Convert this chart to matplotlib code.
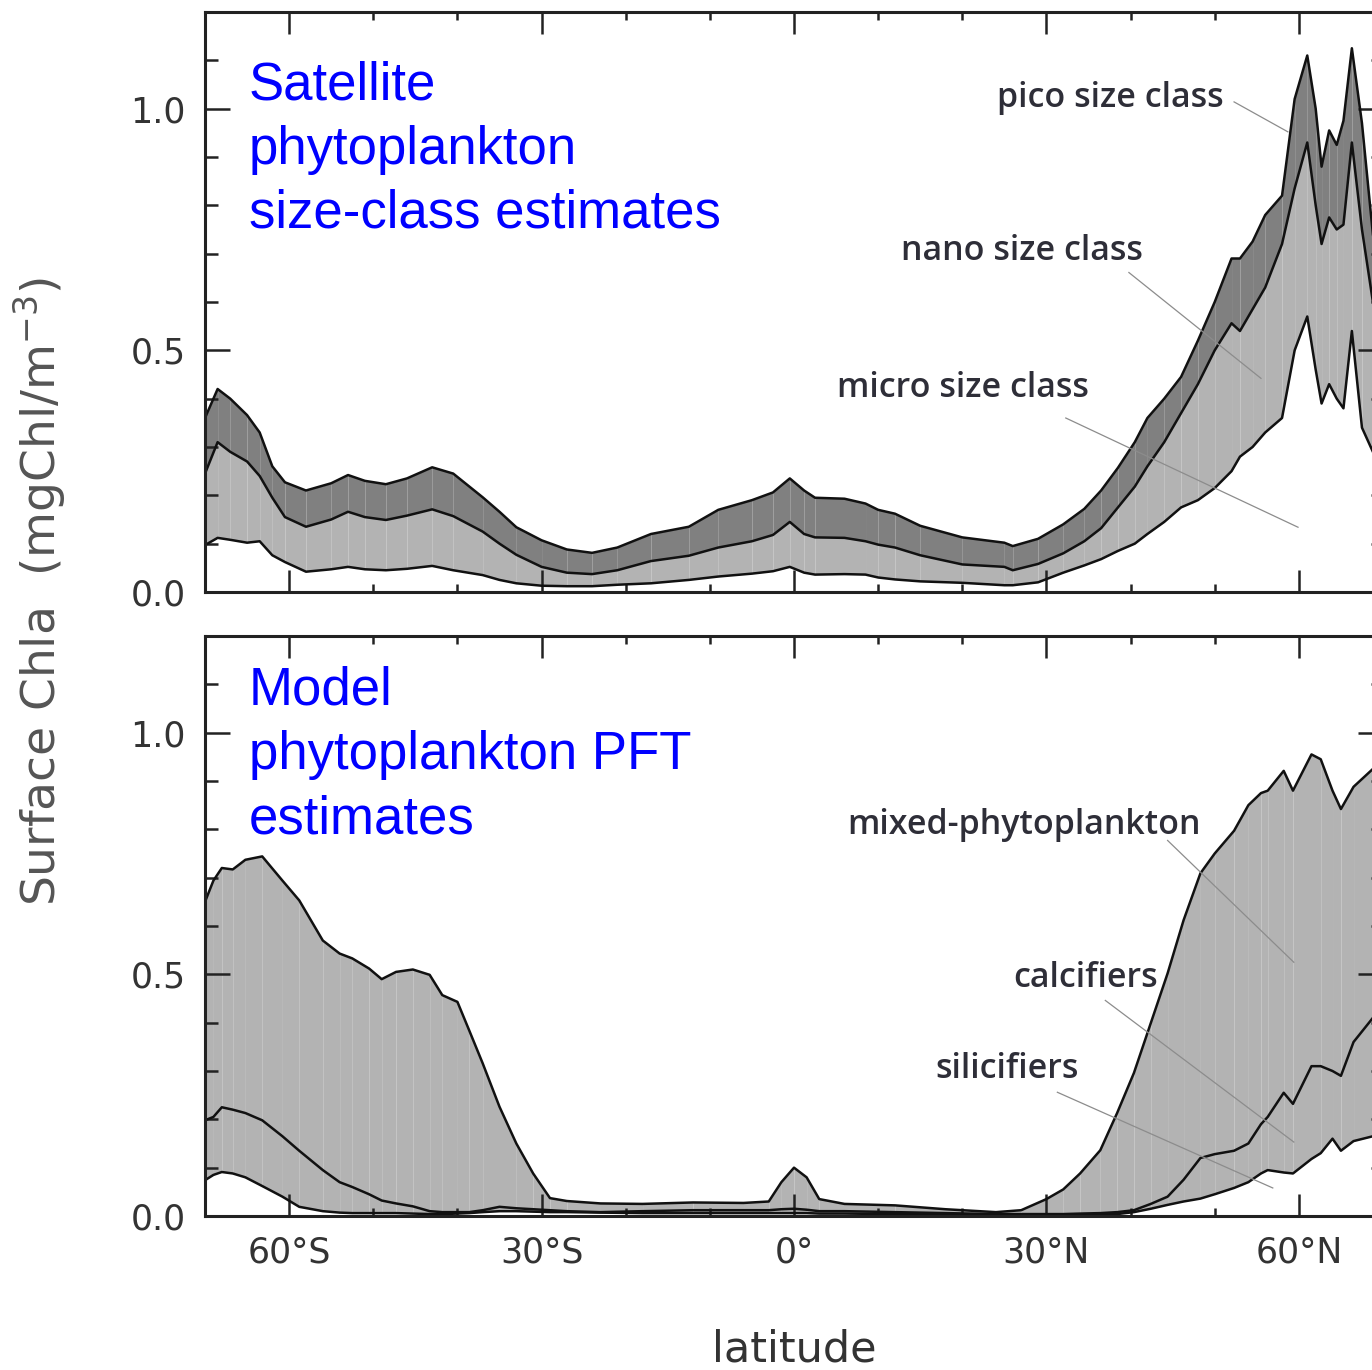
import numpy as np
import matplotlib
matplotlib.use("Agg")
from matplotlib import pyplot as plt
from matplotlib.ticker import MultipleLocator, FixedLocator

# ---- satellite size classes (top panel), cumulative boundaries ----
sat_lat = [-70, -68.5, -67, -65, -63.5, -62, -60.5, -58, -55, -53, -51, -48.5, -46, -43,
           -40.5, -37, -35, -33, -30, -27, -24, -21, -17, -12.5, -9, -5, -2.5, -0.5, 1.2,
           2.5, 6, 8.5, 10, 12, 15, 20, 25, 26, 29, 32, 34.5, 36.5, 38.5, 40.5, 42, 44, 46,
           48, 50, 52, 53, 54.5, 56, 58, 59.5, 61, 62, 62.7, 63.6, 64.5, 65.3, 66.3, 67.5,
           68.8, 70]
sat_total = [0.36, 0.42, 0.40, 0.366, 0.33, 0.26, 0.227, 0.21, 0.225, 0.242, 0.23, 0.223,
             0.235, 0.258, 0.245, 0.196, 0.166, 0.134, 0.107, 0.088, 0.081, 0.092, 0.12,
             0.135, 0.17, 0.19, 0.206, 0.235, 0.21, 0.195, 0.193, 0.183, 0.17, 0.162, 0.137,
             0.113, 0.102, 0.095, 0.11, 0.14, 0.172, 0.21, 0.257, 0.31, 0.36, 0.40, 0.445,
             0.52, 0.60, 0.69, 0.69, 0.725, 0.78, 0.82, 1.02, 1.11, 1.0, 0.88, 0.955, 0.925,
             0.975, 1.125, 0.97, 0.74, 0.62]
sat_micro_nano = [0.245, 0.31, 0.29, 0.27, 0.24, 0.195, 0.155, 0.135, 0.15, 0.166, 0.155,
                  0.149, 0.158, 0.171, 0.157, 0.125, 0.10, 0.077, 0.052, 0.04, 0.037, 0.045,
                  0.064, 0.075, 0.092, 0.105, 0.118, 0.145, 0.12, 0.113, 0.112, 0.105, 0.098,
                  0.092, 0.076, 0.057, 0.052, 0.045, 0.058, 0.08, 0.105, 0.132, 0.175, 0.218,
                  0.26, 0.31, 0.37, 0.43, 0.50, 0.556, 0.54, 0.585, 0.63, 0.72, 0.835, 0.93,
                  0.8, 0.72, 0.775, 0.75, 0.76, 0.93, 0.75, 0.6, 0.48]
sat_micro = [0.097, 0.112, 0.108, 0.102, 0.105, 0.076, 0.062, 0.042, 0.047, 0.052, 0.047,
             0.045, 0.048, 0.054, 0.045, 0.035, 0.025, 0.018, 0.013, 0.012, 0.012, 0.015,
             0.018, 0.025, 0.032, 0.038, 0.043, 0.052, 0.04, 0.036, 0.037, 0.036, 0.03,
             0.026, 0.022, 0.019, 0.014, 0.014, 0.02, 0.04, 0.055, 0.068, 0.085, 0.1, 0.12,
             0.145, 0.175, 0.19, 0.215, 0.25, 0.28, 0.3, 0.33, 0.36, 0.5, 0.57, 0.46, 0.39,
             0.43, 0.40, 0.38, 0.54, 0.34, 0.29, 0.25]

# ---- model PFTs (bottom panel), cumulative boundaries ----
mod_lat = [-70, -69, -68, -66.7, -65.2, -63.2, -60.8, -58.8, -56, -54, -52.5, -50.5, -49,
           -47.3, -45.3, -43.3, -41.8, -40, -38.6, -37, -35, -33, -31, -29, -27, -23, -18,
           -12, -6, -3, -1.5, 0, 1.5, 3, 6, 12, 18, 24, 27, 30, 32, 34, 36.4, 38.4, 40.4,
           42.4, 44.4, 46.3, 48.3, 50, 52.3, 54, 55.5, 56.3, 58.2, 59.3, 61.5, 62.6, 64, 65,
           66.5, 68.8, 70]
mod_total = [0.65, 0.694, 0.72, 0.717, 0.737, 0.744, 0.694, 0.653, 0.57, 0.543, 0.533,
             0.512, 0.49, 0.505, 0.51, 0.499, 0.457, 0.443, 0.384, 0.316, 0.226, 0.15, 0.088,
             0.037, 0.031, 0.026, 0.025, 0.028, 0.027, 0.03, 0.07, 0.1, 0.08, 0.035, 0.025,
             0.022, 0.014, 0.008, 0.012, 0.035, 0.055, 0.088, 0.136, 0.213, 0.296, 0.399,
             0.502, 0.612, 0.709, 0.75, 0.797, 0.85, 0.875, 0.88, 0.921, 0.88, 0.955, 0.945,
             0.88, 0.842, 0.888, 0.925, 0.94]
mod_sil_calc = [0.198, 0.205, 0.225, 0.22, 0.213, 0.198, 0.165, 0.135, 0.095, 0.07, 0.06,
                0.045, 0.032, 0.026, 0.02, 0.01, 0.008, 0.008, 0.008, 0.012, 0.019, 0.016,
                0.014, 0.012, 0.01, 0.008, 0.01, 0.012, 0.012, 0.012, 0.014, 0.015, 0.013,
                0.01, 0.01, 0.008, 0.006, 0.004, 0.004, 0.004, 0.004, 0.005, 0.006, 0.008,
                0.012, 0.025, 0.04, 0.075, 0.12, 0.128, 0.135, 0.15, 0.19, 0.205, 0.255,
                0.232, 0.31, 0.31, 0.30, 0.29, 0.36, 0.41, 0.44]
mod_sil = [0.074, 0.085, 0.091, 0.088, 0.08, 0.062, 0.04, 0.019, 0.01, 0.007, 0.006, 0.006,
           0.006, 0.006, 0.005, 0.004, 0.004, 0.005, 0.006, 0.008, 0.01, 0.01, 0.009, 0.008,
           0.008, 0.007, 0.006, 0.006, 0.006, 0.006, 0.006, 0.006, 0.006, 0.005, 0.005,
           0.004, 0.003, 0.002, 0.002, 0.002, 0.002, 0.002, 0.003, 0.004, 0.008, 0.015,
           0.023, 0.03, 0.036, 0.045, 0.058, 0.07, 0.088, 0.095, 0.09, 0.088, 0.118, 0.13,
           0.16, 0.135, 0.155, 0.165, 0.17]

tick_pos = [-60, -30, 0, 30, 60]
tick_lab = ['60°S', '30°S', '0°', '30°N', '60°N']

LIGHT = '#b3b3b3'
DARK = '#808080'
TXT = '#2e2e38'


def striped_fill(ax, x, lo, hi, color):
    # segment by segment, like the original renderer (gives the faint seams)
    for i in range(len(x) - 1):
        ax.fill_between(x[i:i + 2], lo[i:i + 2], hi[i:i + 2], color=color,
                        lw=0, antialiased=True)


def style_axis(ax, labels):
    ax.set_xlim(-70, 70)
    ax.set_ylim(0, 1.2)
    for s in ax.spines.values():
        s.set_linewidth(2.2)
        s.set_color('#222222')
    ax.xaxis.set_major_locator(FixedLocator(tick_pos))
    ax.xaxis.set_minor_locator(MultipleLocator(10))
    ax.yaxis.set_major_locator(FixedLocator([0.0, 0.5, 1.0]))
    ax.yaxis.set_minor_locator(MultipleLocator(0.1))
    ax.tick_params(which='both', direction='in', top=True, right=True, colors='#222222',
                   labelcolor='#333333', labelsize=25, width=1.8)
    ax.tick_params(axis='y', which='major', length=18, pad=14)
    ax.tick_params(axis='y', which='minor', length=9)
    ax.tick_params(axis='x', which='major', length=16, pad=14)
    ax.tick_params(axis='x', which='minor', length=6)
    ax.set_yticklabels(['0.0', '0.5', '1.0'])
    if labels:
        ax.set_xticklabels(tick_lab)
    else:
        ax.set_xticklabels([])


fig = plt.figure(figsize=(13.72, 13.70), dpi=100)
ax1 = fig.add_axes([205 / 1372, 1 - 592 / 1370, 1178 / 1372, 580 / 1370])
ax2 = fig.add_axes([205 / 1372, 1 - 1216 / 1370, 1178 / 1372, 580 / 1370])

# top panel
lat = np.array(sat_lat)
striped_fill(ax1, lat, np.array(sat_micro), np.array(sat_micro_nano), LIGHT)
striped_fill(ax1, lat, np.array(sat_micro_nano), np.array(sat_total), DARK)
for v in (sat_micro, sat_micro_nano, sat_total):
    ax1.plot(lat, v, color='#111111', lw=1.8)
style_axis(ax1, False)

# bottom panel
lat2 = np.array(mod_lat)
striped_fill(ax2, lat2, np.array(mod_sil), np.array(mod_total), LIGHT)
for v in (mod_sil, mod_sil_calc, mod_total):
    ax2.plot(lat2, v, color='#111111', lw=1.8)
style_axis(ax2, True)

# class labels with leader lines
lab_kw = dict(family='Open Sans', fontweight='semibold', fontsize=24.5, color=TXT,
              ha='right', va='baseline')
lead_kw = dict(color='#8c8c8c', lw=0.9)
top_labels = [('pico size class', 51.0, 1.004, (52.3, 58.7), (1.014, 0.952)),
              ('nano size class', 41.5, 0.686, (39.8, 55.5), (0.661, 0.442)),
              ('micro size class', 35.0, 0.403, (32.3, 59.9), (0.360, 0.134))]
bot_labels = [('mixed-phytoplankton', 48.3, 0.791, (44.4, 59.4), (0.777, 0.525)),
              ('calcifiers', 43.2, 0.473, (37.0, 59.4), (0.446, 0.153)),
              ('silicifiers', 33.8, 0.285, (31.3, 56.9), (0.256, 0.058))]
for ax, labs in ((ax1, top_labels), (ax2, bot_labels)):
    for txt, tx, ty, lx, ly in labs:
        ax.text(tx, ty, txt, **lab_kw)
        ax.plot(lx, ly, **lead_kw)

# blue panel titles (anchored on the baseline of their last line)
fig.text(249 / 1372, 1 - 228 / 1370, 'Satellite\nphytoplankton\nsize-class estimates',
         family='Liberation Sans', fontsize=38, color='#0000ff', va='baseline',
         ha='left', linespacing=1.36)
fig.text(249 / 1372, 1 - 833 / 1370, 'Model\nphytoplankton PFT\nestimates',
         family='Liberation Sans', fontsize=38, color='#0000ff', va='baseline',
         ha='left', linespacing=1.36)

fig.text(40 / 1372, 1 - 591 / 1370, 'Surface Chla  (mgChl/m$^{-3}$)', rotation=90,
         fontsize=34, color='#555555', ha='center', va='center')
fig.text(794 / 1372, 1 - 1350 / 1370, 'latitude', fontsize=31, color='#333333',
         ha='center', va='center')

fig.savefig('out.png', dpi=100)
